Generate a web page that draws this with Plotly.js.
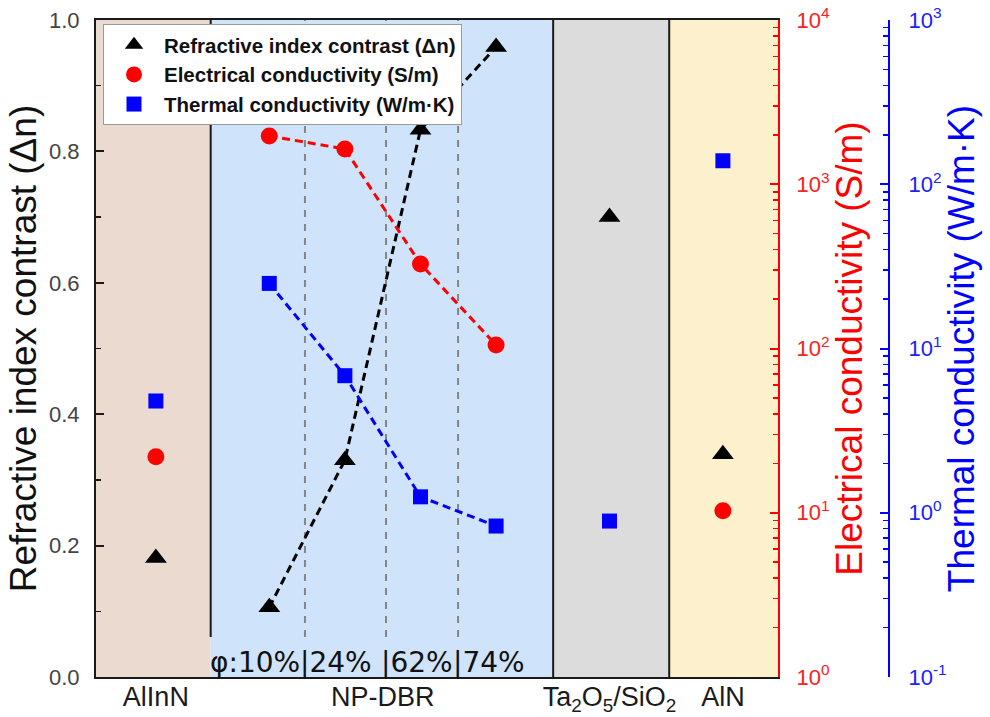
<!DOCTYPE html>
<html>
<head>
<meta charset="utf-8">
<script src="https://cdn.plot.ly/plotly-3.0.1.min.js"></script>
<style>
  html, body { margin: 0; padding: 0; background: #ffffff; }
  #chart { width: 990px; height: 717px; }
</style>
</head>
<body>
<div id="chart"></div>
<script>
// ---------------- data ----------------
const sampleNames = ['AlInN', 'NP-DBR 10%', 'NP-DBR 24%', 'NP-DBR 62%', 'NP-DBR 74%', 'Ta2O5/SiO2', 'AlN'];
const sampleX = [-0.5, 1, 2, 3, 4, 5.5, 7];
const refractiveContrast = [0.181, 0.106, 0.330, 0.833, 0.959, 0.700, 0.339];
const electricalCond = [21.9, 1967, 1640, 327, 105, null, 10.3];
const thermalCond = [4.79, 24.9, 6.83, 1.25, 0.83, 0.89, 139];
const npdbrIndex = [1, 2, 3, 4];

const materialNames = ['AlInN', 'NP-DBR', 'Ta<sub>2</sub>O<sub>5</sub>/SiO<sub>2</sub>', 'AlN'];
const materialCenters = [-0.5, 2.5, 5.5, 7];
const bandEdges = [-1.292, 0.225, 4.755, 6.29, 7.729];
const bandColors = ['#eadad0', '#cfe4fa', '#dcdcdc', '#fdf0cc'];

const porosityLabels = ['10%', '24%', '62%', '74%'];
const porosityDividers = [1.472, 2.544, 3.497];

const leftTicks = [0, 0.2, 0.4, 0.6, 0.8, 1.0];
const elecTickVals = [1, 10, 100, 1000, 10000];
const elecTickText = ['10<sup>0</sup>', '10<sup>1</sup>', '10<sup>2</sup>', '10<sup>3</sup>', '10<sup>4</sup>'];
const thermTickVals = [0.1, 1, 10, 100, 1000];
const thermTickText = ['10<sup>-1</sup>', '10<sup>0</sup>', '10<sup>1</sup>', '10<sup>2</sup>', '10<sup>3</sup>'];

// ---------------- styling ----------------
const FONT = 'Liberation Sans, Arial, sans-serif';
const FRAME = '#1a1a1a';
const textTop = 0.061; // where the porosity label region starts (paper fraction)

const pick = (arr, idx) => idx.map(i => arr[i]);
const dash = '8px,5px';

const traces = [
  { x: pick(sampleX, npdbrIndex), y: pick(refractiveContrast, npdbrIndex), yaxis: 'y',
    mode: 'lines', line: { color: '#000000', width: 3, dash: dash }, showlegend: false, hoverinfo: 'skip' },
  { x: pick(sampleX, npdbrIndex), y: pick(electricalCond, npdbrIndex), yaxis: 'y2',
    mode: 'lines', line: { color: '#ff0000', width: 3, dash: dash }, showlegend: false, hoverinfo: 'skip' },
  { x: pick(sampleX, npdbrIndex), y: pick(thermalCond, npdbrIndex), yaxis: 'y3',
    mode: 'lines', line: { color: '#0000ff', width: 3, dash: dash }, showlegend: false, hoverinfo: 'skip' },
  { x: sampleX, y: refractiveContrast, yaxis: 'y', mode: 'markers', text: sampleNames,
    name: 'Refractive index contrast (\u0394n)',
    marker: { symbol: 'triangle-up', size: 19, color: '#000000' } },
  { x: sampleX, y: electricalCond, yaxis: 'y2', mode: 'markers', text: sampleNames,
    name: 'Electrical conductivity (S/m)',
    marker: { symbol: 'circle', size: 17, color: '#ff0000' } },
  { x: sampleX, y: thermalCond, yaxis: 'y3', mode: 'markers', text: sampleNames,
    name: 'Thermal conductivity (W/m\u00b7K)',
    marker: { symbol: 'square', size: 15, color: '#0000ff' } }
];

const shapes = [];
for (let i = 0; i < bandColors.length; i++) {
  shapes.push({ type: 'rect', xref: 'x', yref: 'paper', x0: bandEdges[i], x1: bandEdges[i + 1], y0: 0, y1: 1,
    fillcolor: bandColors[i], line: { width: 0 }, layer: 'below' });
}
// boundaries between materials
shapes.push({ type: 'line', xref: 'x', yref: 'paper', x0: bandEdges[1], x1: bandEdges[1], y0: textTop, y1: 1,
  line: { color: FRAME, width: 2 }, layer: 'below' });
shapes.push({ type: 'line', xref: 'x', yref: 'paper', x0: bandEdges[2], x1: bandEdges[2], y0: 0, y1: 1,
  line: { color: FRAME, width: 2 }, layer: 'below' });
shapes.push({ type: 'line', xref: 'x', yref: 'paper', x0: bandEdges[3], x1: bandEdges[3], y0: 0, y1: 1,
  line: { color: FRAME, width: 2 }, layer: 'below' });
// porosity dividers
porosityDividers.forEach(d => {
  shapes.push({ type: 'line', xref: 'x', yref: 'paper', x0: d, x1: d, y0: textTop, y1: 1,
    line: { color: '#858585', width: 2, dash: '7px,7px' }, layer: 'below' });
});

const annFont = { family: 'DejaVu Sans, Verdana, sans-serif', size: 28, color: '#111111' };
const pipeHalf = 4.7;
const annotations = [
  { xref: 'x', yref: 'paper', x: porosityDividers[0], y: 0.0228, xanchor: 'right', yanchor: 'middle',
    xshift: -pipeHalf, text: '\u03c6:' + porosityLabels[0], showarrow: false, font: annFont, borderpad: 0, borderwidth: 0 }
];
for (let i = 1; i < porosityLabels.length; i++) {
  annotations.push({ xref: 'x', yref: 'paper', x: porosityDividers[i - 1], y: 0.0228, xanchor: 'left', yanchor: 'middle',
    xshift: -pipeHalf, text: '|' + porosityLabels[i], showarrow: false, font: annFont, borderpad: 0, borderwidth: 0 });
}

const plotW = 990 - 96 - 101;
const layout = {
  width: 990, height: 717,
  margin: { l: 96, r: 101, t: 20, b: 40, pad: 0 },
  paper_bgcolor: '#ffffff', plot_bgcolor: '#ffffff',
  font: { family: FONT },
  showlegend: true,
  legend: {
    x: 7 / plotW, y: 0.994, xanchor: 'left', yanchor: 'top',
    bgcolor: '#ffffff', bordercolor: '#9a9a9a', borderwidth: 1,
    font: { family: FONT, size: 20.5, color: '#111111', weight: 'bold' },
    itemwidth: 50
  },
  xaxis: {
    domain: [0, 682 / plotW], range: [bandEdges[0], bandEdges[4]],
    showline: true, mirror: true, linecolor: FRAME, linewidth: 2,
    showgrid: false, zeroline: false, ticks: '',
    tickmode: 'array', tickvals: materialCenters, ticktext: materialNames,
    tickfont: { family: FONT, size: 27, color: '#1a1a1a' }, ticklabelstandoff: -5
  },
  yaxis: {
    range: [0, 1], tickmode: 'array', tickvals: leftTicks, tickformat: '.1f',
    ticks: 'inside', ticklen: 8, tickwidth: 2, tickcolor: FRAME,
    minor: { ticks: 'inside', ticklen: 5, tickwidth: 1.5, tickcolor: FRAME, dtick: 0.1, showgrid: false },
    showline: true, linecolor: FRAME, linewidth: 2, showgrid: false, zeroline: false,
    tickfont: { family: FONT, size: 22, color: '#444444' }, ticklabelstandoff: 10,
    title: { text: 'Refractive index contrast (\u0394n)', font: { family: FONT, size: 37, color: '#111111' }, standoff: 1 }
  },
  yaxis2: {
    overlaying: 'y', side: 'right', anchor: 'x', type: 'log', range: [0, 4],
    tickmode: 'array', tickvals: elecTickVals, ticktext: elecTickText,
    ticks: 'inside', ticklen: 8, tickwidth: 2, tickcolor: '#ff0000',
    minor: { ticks: 'inside', ticklen: 5, tickwidth: 1.5, tickcolor: '#ff0000', dtick: 'D1', showgrid: false },
    showline: true, linecolor: '#ff0000', linewidth: 2, showgrid: false, zeroline: false,
    tickfont: { family: FONT, size: 22, color: '#ff2020' }, ticklabelstandoff: 12,
    title: { text: 'Electrical conductivity (S/m)', font: { family: FONT, size: 37, color: '#ff0000' }, standoff: 5 }
  },
  yaxis3: {
    overlaying: 'y', side: 'right', anchor: 'free', position: 1, type: 'log', range: [-1, 3],
    tickmode: 'array', tickvals: thermTickVals, ticktext: thermTickText,
    ticks: 'inside', ticklen: 8, tickwidth: 2, tickcolor: '#0000ff',
    minor: { ticks: 'inside', ticklen: 5, tickwidth: 1.5, tickcolor: '#0000ff', dtick: 'D1', showgrid: false },
    showline: true, linecolor: '#0000ff', linewidth: 2, showgrid: false, zeroline: false,
    tickfont: { family: FONT, size: 22, color: '#2020ff' }, ticklabelstandoff: 14,
    title: { text: 'Thermal conductivity (W/m\u00b7K)', font: { family: FONT, size: 37, color: '#0000ff' }, standoff: 0 }
  },
  shapes: shapes,
  annotations: annotations
};

Plotly.newPlot('chart', traces, layout, { displayModeBar: false, staticPlot: true });
</script>
</body>
</html>
